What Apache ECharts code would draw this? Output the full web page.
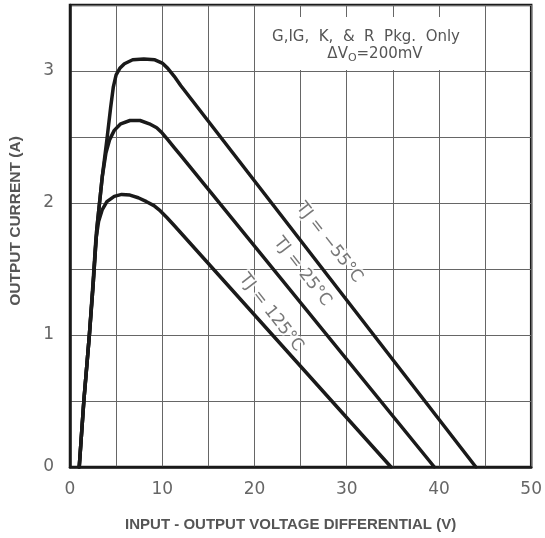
<!DOCTYPE html>
<html>
<head>
<meta charset="utf-8">
<script src="https://cdn.jsdelivr.net/npm/echarts@6/dist/echarts.min.js"></script>
<style>
html,body{margin:0;padding:0;background:#fff;}
#c{width:545px;height:538px;}
</style>
</head>
<body>
<div id="c"></div>
<script>
// Data
var xTicks = [0, 10, 20, 30, 40, 50];
var yTicks = [0, 1, 2, 3];
var curveM55 = [[1.0,0],[1.5,0.5],[2.1,1.0],[2.5,1.37],[2.9,1.8],[3.5,2.2],[4.0,2.48],[4.4,2.72],[4.7,2.88],[5.0,2.97],[5.4,3.02],[5.9,3.055],[6.8,3.085],[8.0,3.09],[9.2,3.085],[10.0,3.06],[10.6,3.02],[11.3,2.96],[12.0,2.89],[44.0,0]];
var curve25 = [[1.0,0],[1.5,0.5],[2.1,1.0],[2.5,1.37],[2.9,1.8],[3.5,2.2],[3.9,2.38],[4.3,2.48],[4.8,2.55],[5.5,2.6],[6.5,2.625],[7.6,2.625],[8.6,2.6],[9.4,2.57],[10.0,2.53],[10.6,2.48],[11.3,2.42],[12.0,2.36],[39.5,0]];
var curve125 = [[1.0,0],[1.5,0.5],[2.1,1.0],[2.5,1.4],[2.8,1.72],[3.1,1.86],[3.5,1.95],[4.0,2.01],[4.8,2.05],[5.6,2.065],[6.5,2.06],[7.4,2.04],[8.3,2.01],[9.1,1.98],[9.8,1.94],[10.5,1.89],[11.3,1.83],[34.8,0]];
var curveLabels = ['TJ = \u221255\u00b0C', 'TJ = 25\u00b0C', 'TJ = 125\u00b0C'];
var labelPos = [[28.1,1.70],[25.2,1.48],[21.8,1.17]];
var noteLine1 = 'G,IG,  K,  &  R  Pkg.  Only';
var noteLine2 = ['\u0394V', 'O', '=200mV'];

var chart = echarts.init(document.getElementById('c'));
var lineStyle = {color:'#1a1a1a', width:3.5, join:'round', cap:'round'};
function curve(d){
  return {type:'line', data:d, smooth:false, symbol:'none', lineStyle:lineStyle, z:3};
}
var labelSeries = {
  type:'scatter', symbolSize:0, z:4,
  data: labelPos.map(function(p,i){ return {value:p, label:{formatter:curveLabels[i]}}; }),
  label:{show:true, position:'inside', rotate:-52, color:'#555', fontSize:17, fontFamily:'DejaVu Sans', fontWeight:'normal',
    textBorderColor:'#fff', textBorderWidth:4}
};
chart.setOption({
  animation:false,
  grid:{left:69.5, right:12, top:5, bottom:71, show:true, borderColor:'#1a1a1a', borderWidth:2.5},
  xAxis:{
    type:'value', min:0, max:50, interval:5,
    axisLine:{show:true, lineStyle:{color:'#1a1a1a', width:2.5}},
    axisTick:{show:false},
    splitLine:{show:true, lineStyle:{color:'#666', width:1}},
    axisLabel:{interval:0, color:'#666', fontSize:17, fontFamily:'DejaVu Sans', margin:14,
      formatter:function(v){ return xTicks.indexOf(v) >= 0 ? String(v) : ''; }},
    name:'INPUT - OUTPUT VOLTAGE DIFFERENTIAL (V)', nameLocation:'middle', nameGap:50,
    nameTextStyle:{color:'#555', fontSize:15, fontWeight:'bold', fontFamily:'Liberation Sans', padding:[0,20,0,0]}
  },
  yAxis:{
    type:'value', min:0, max:3.5, interval:0.5,
    axisLine:{show:true, lineStyle:{color:'#1a1a1a', width:2.5}},
    axisTick:{show:false},
    splitLine:{show:true, lineStyle:{color:'#666', width:1}},
    axisLabel:{interval:0, color:'#666', fontSize:17, fontFamily:'DejaVu Sans', margin:16,
      formatter:function(v){ return yTicks.indexOf(v) >= 0 ? String(v) : ''; }},
    name:'OUTPUT CURRENT (A)', nameLocation:'middle', nameGap:46,
    nameTextStyle:{color:'#555', fontSize:15.5, fontWeight:'bold', fontFamily:'Liberation Sans', padding:[0,0,0,30]}
  },
  graphic:[
    {type:'rect', z:10, shape:{x:262, y:17, width:210, height:53}, style:{fill:'#fff'}},
    {type:'text', z:11, x:366, y:37,
      style:{text:noteLine1, align:'center', verticalAlign:'middle', fill:'#555', fontSize:15, fontFamily:'DejaVu Sans'}},
    {type:'text', z:11, x:375, y:54,
      style:{text:'{d|' + noteLine2[0] + '}{s|' + noteLine2[1] + '}{d|' + noteLine2[2] + '}',
        align:'center', verticalAlign:'middle',
        rich:{d:{fontSize:15, fill:'#555', fontFamily:'DejaVu Sans'},
              s:{fontSize:11, fill:'#555', fontFamily:'DejaVu Sans', padding:[8,0,0,0]}}}}
  ],
  series:[curve(curveM55), curve(curve25), curve(curve125), labelSeries]
});
</script>
</body>
</html>
